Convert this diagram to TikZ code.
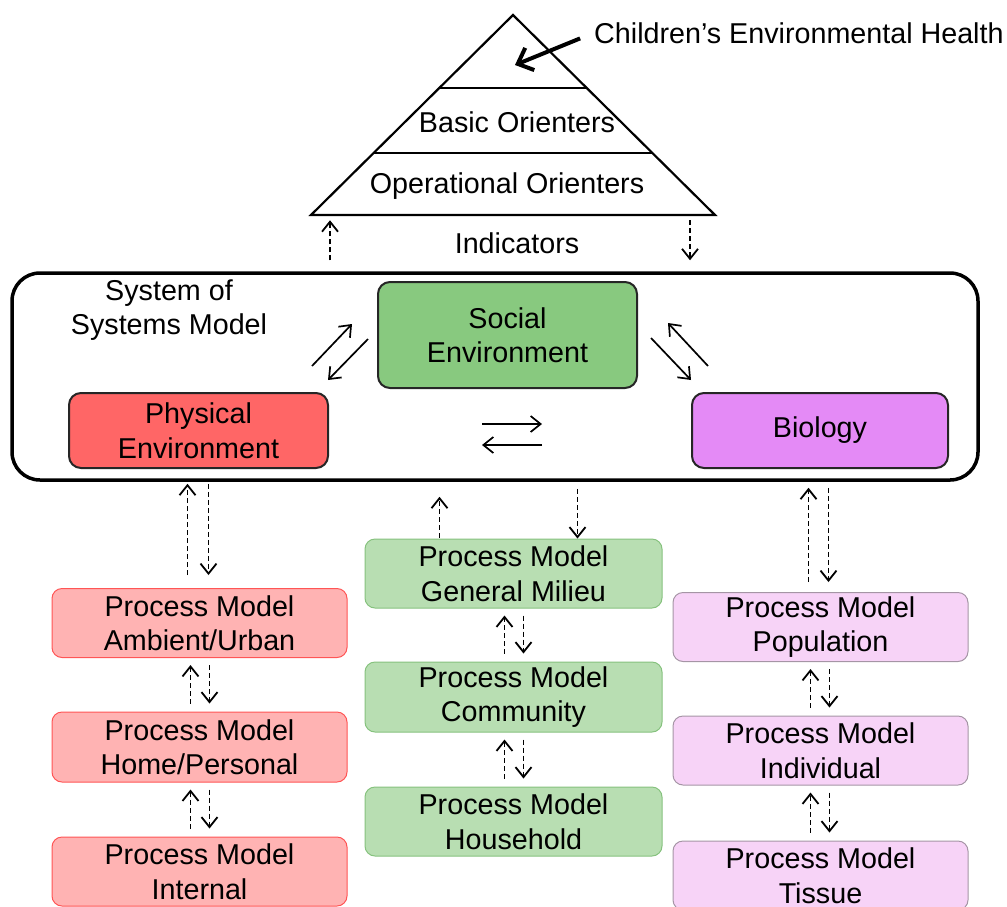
\documentclass[tikz,border=0pt]{standalone}
\usepackage{fontspec}
\setmainfont{Liberation Sans}
\usetikzlibrary{arrows.meta,calc}
\definecolor{socfill}{HTML}{88C97F}
\definecolor{phyfill}{HTML}{FF6666}
\definecolor{biofill}{HTML}{E48AF6}
\definecolor{pred}{HTML}{FFB3B3}
\definecolor{predline}{HTML}{FF5555}
\definecolor{pgreen}{HTML}{B8DEB2}
\definecolor{pgreenline}{HTML}{86C27E}
\definecolor{ppurple}{HTML}{F7D3F7}
\definecolor{ppurpleline}{HTML}{A595A5}
\begin{document}
\begin{tikzpicture}[x=1pt,y=-1pt,
  txt/.style={font=\fontsize{28.7}{34.5}\selectfont, align=center, inner sep=0pt},
  mainbox/.style={txt, draw=black!85, line width=2pt, rounded corners=12pt},
  procbox/.style={txt, line width=1pt, rounded corners=10pt, minimum width=295pt, minimum height=69pt},
  redproc/.style={procbox, fill=pred, draw=predline},
  greenproc/.style={procbox, fill=pgreen, draw=pgreenline},
  purpleproc/.style={procbox, fill=ppurple, draw=ppurpleline},
  dashflow/.style={dash pattern=on 5pt off 3pt, line width=1.8pt, -{Straight Barb[length=10pt,width=16pt,line width=1.8pt]}},
  solidflow/.style={line width=1.7pt, -{Straight Barb[length=10pt,width=16pt,line width=1.7pt]}},
  bigarrow/.style={line width=4pt, -{Straight Barb[length=13pt,width=24pt,line width=4pt]}},
  pyr/.style={line width=2.2pt, line join=miter}
]
\useasboundingbox (0,0) rectangle (1007,906);

% pyramid
\coordinate (apex) at (513,15);
\coordinate (pbl) at (311,215);
\coordinate (pbr) at (715,215);
\draw[pyr] (apex) -- (pbl) -- (pbr) -- cycle;
\draw[pyr] ($(apex)!0.365!(pbl)$) -- ($(apex)!0.365!(pbr)$);
\draw[pyr] ($(apex)!0.69!(pbl)$) -- ($(apex)!0.69!(pbr)$);
\node[txt, anchor=base] (basic) at (517,132) {Basic Orienters};
\node[txt, anchor=base] (oper) at (507,193) {Operational Orienters};
\node[txt, anchor=base] (indic) at (517,253) {Indicators};
\node[txt, anchor=base west] (che) at (594,43) {Children’s Environmental Health};
\coordinate (cheTip) at (515,65);
\draw[bigarrow, shorten <=15pt] (che.west) -- (cheTip);

% system of systems box
\node[draw, line width=3.5pt, rounded corners=28pt, minimum width=966pt, minimum height=207pt, inner sep=0pt] (sos) at (495,376.5) {};
\node[txt] (sostext) at (169,310) {System of\\Systems Model};

\node[mainbox, fill=socfill, minimum width=259pt, minimum height=106pt] (soc) at (507.5,335) {Social\\Environment};
\node[mainbox, fill=phyfill, minimum width=259pt, minimum height=75pt] (phy) at (198.5,430.5) {Physical\\Environment};
\node[mainbox, fill=biofill, minimum width=256pt, minimum height=75pt] (bio) at (820,430.5) {Biology};

% arrows between pyramid and box
\draw[dashflow] ($(sos.north)+(-165,-11)$) -- ($(sos.north)+(-165,-51)$);
\draw[dashflow] ($(sos.north)+(195,-51)$) -- ($(sos.north)+(195,-11)$);

% arrows inside the box
\draw[solidflow] ($(phy.north east)+(-17,-26)$) -- ($(soc.west)+(-25,-11)$);
\draw[solidflow] ($(soc.west)+(-9,4)$) -- ($(phy.north east)+(-1,-12)$);
\draw[solidflow] ($(soc.east)+(13,3)$) -- ($(bio.north west)+(0,-12)$);
\draw[solidflow] ($(bio.north west)+(17,-26)$) -- ($(soc.east)+(30,-12)$);
\draw[solidflow] ($(soc.south)+(-25.5,35)$) -- ($(soc.south)+(34.5,35)$);
\draw[solidflow] ($(soc.south)+(34.5,56)$) -- ($(soc.south)+(-25.5,56)$);

% process models
\node[redproc] (amb) at (199.5,623) {Process Model\\Ambient/Urban};
\node[redproc, minimum height=70pt] (home) at (199.5,747) {Process Model\\Home/Personal};
\node[redproc] (int) at (199.5,871.5) {Process Model\\Internal};

\node[greenproc, minimum width=297pt] (mil) at (513.5,573.5) {Process Model\\General Milieu};
\node[greenproc, minimum width=297pt, minimum height=70pt] (com) at (513.5,697) {Process Model\\Community};
\node[greenproc, minimum width=297pt] (hh) at (513.5,821.5) {Process Model\\Household};

\node[purpleproc] (pop) at (820.5,627) {Process Model\\Population};
\node[purpleproc] (ind) at (820.5,750.5) {Process Model\\Individual};
\node[purpleproc] (tis) at (820.5,875.5) {Process Model\\Tissue};

% dashed arrows, red column
\draw[dashflow] ($(amb.north)+(-12,-13)$) -- ($(amb.north |- sos.south)+(-12,2)$);
\draw[dashflow] ($(amb.north |- sos.south)+(9,2)$) -- ($(amb.north)+(9,-13)$);
\draw[dashflow] ($(home.north)+(-9,-8)$) -- ($(amb.south)+(-9,7)$);
\draw[dashflow] ($(amb.south)+(10,7)$) -- ($(home.north)+(10,-8)$);
\draw[dashflow] ($(int.north)+(-9,-8)$) -- ($(home.south)+(-9,7)$);
\draw[dashflow] ($(home.south)+(10,7)$) -- ($(int.north)+(10,-8)$);

% dashed arrows, green column
\draw[dashflow] ($(mil.north)+(-74,-1)$) -- ($(mil.north |- sos.south)+(-74,15)$);
\draw[dashflow] ($(mil.north |- sos.south)+(64,7)$) -- ($(mil.north)+(64,0)$);
\draw[dashflow] ($(com.north)+(-9,-8)$) -- ($(mil.south)+(-9,7)$);
\draw[dashflow] ($(mil.south)+(10,7)$) -- ($(com.north)+(10,-8)$);
\draw[dashflow] ($(hh.north)+(-9,-8)$) -- ($(com.south)+(-9,7)$);
\draw[dashflow] ($(com.south)+(10,7)$) -- ($(hh.north)+(10,-8)$);

% dashed arrows, purple column
\draw[dashflow] ($(pop.north)+(-12,-10)$) -- ($(pop.north |- sos.south)+(-12,6)$);
\draw[dashflow] ($(pop.north |- sos.south)+(8,6)$) -- ($(pop.north)+(8,-10)$);
\draw[dashflow] ($(ind.north)+(-10,-8)$) -- ($(pop.south)+(-10,7)$);
\draw[dashflow] ($(pop.south)+(9,7)$) -- ($(ind.north)+(9,-8)$);
\draw[dashflow] ($(tis.north)+(-10,-8)$) -- ($(ind.south)+(-10,7)$);
\draw[dashflow] ($(ind.south)+(9,7)$) -- ($(tis.north)+(9,-8)$);
\end{tikzpicture}
\end{document}
